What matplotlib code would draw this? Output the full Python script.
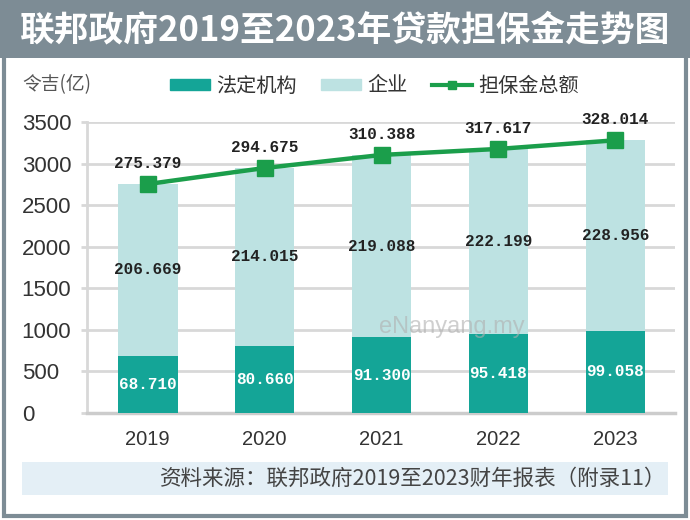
import matplotlib
matplotlib.use("Agg")
import matplotlib.pyplot as plt
from matplotlib.patches import Rectangle, Patch
from matplotlib.lines import Line2D

plt.rcParams['font.family'] = ['Noto Sans CJK SC', 'DejaVu Sans']

years = ['2019', '2020', '2021', '2022', '2023']
statutory = [68.710, 80.660, 91.300, 95.418, 99.058]   # 法定机构
company = [206.669, 214.015, 219.088, 222.199, 228.956]  # 企业
total = [275.379, 294.675, 310.388, 317.617, 328.014]    # 担保金总额
yticks = [0, 500, 1000, 1500, 2000, 2500, 3000, 3500]

dark = '#14a597'
light = '#bde2e2'
green = '#1b9e4b'
frame = '#7d8c95'
grid = '#d8d8d8'

# axis in the picture runs 10x the labelled values
scale = 10

fig = plt.figure(figsize=(6.9, 5.2), dpi=100)
W, H = 690, 520

def fx(px):
    return px / W

def fy(py):
    return 1 - py / H

# outer frame and title bar
fig.patches.append(Rectangle((fx(4), fy(516)), fx(682), 512 / H, transform=fig.transFigure,
                             facecolor='white', edgecolor=frame, lw=3, zorder=0))
fig.patches.append(Rectangle((0, fy(58)), 1, 58 / H, transform=fig.transFigure,
                             facecolor=frame, edgecolor='none', zorder=1))
fig.text(0.5, fy(30), '联邦政府2019至2023年贷款担保金走势图', color='white',
         fontsize=25, fontweight='bold', ha='center', va='center')

# footer band
fig.patches.append(Rectangle((fx(22), fy(495)), fx(646), 33 / H, transform=fig.transFigure,
                             facecolor='#e4eff6', edgecolor='none', zorder=1))
fig.text(fx(666), fy(479), '资料来源：联邦政府2019至2023财年报表（附录11）',
         color='#444444', fontsize=15.5, ha='right', va='center')

ax = fig.add_axes([fx(87), fy(413), fx(675 - 87), (413 - 122) / H])
ax.set_zorder(3)
ax.patch.set_visible(False)
x = list(range(len(years)))
bot = [v * scale for v in statutory]
top = [v * scale for v in company]
tot = [v * scale for v in total]

ax.bar(x, bot, width=0.51, color=dark, zorder=3)
ax.bar(x, top, width=0.51, bottom=bot, color=light, zorder=3)
ax.plot(x, tot, color=green, lw=3.2, marker='s', markersize=12, zorder=5)

mono = dict(family='Liberation Mono', fontweight='bold', fontsize=11.5)
for i in x:
    ax.text(i, bot[i] / 2, f'{statutory[i]:.3f}', color='white', ha='center', va='center', zorder=6, **mono)
    ax.text(i, bot[i] + top[i] / 2, f'{company[i]:.3f}', color='#222222', ha='center', va='center', zorder=6, **mono)
    ax.annotate(f'{total[i]:.3f}', (i, tot[i]), xytext=(0, 15), textcoords='offset points',
                color='#222222', ha='center', va='center', zorder=6, **mono)

ax.set_xlim(-0.52, 4.51)
ax.set_ylim(0, 3500)
ax.set_yticks(yticks)
ax.set_xticks(x)
ax.set_xticklabels(years, fontsize=14.5, family='Liberation Sans', color='#333333')
ax.set_yticklabels([str(t) for t in yticks], fontsize=16, family='Liberation Sans',
                   color='#333333', ha='left')
ax.tick_params(axis='y', length=4, color=grid, width=2, pad=43)
ax.tick_params(axis='x', length=0, pad=12)
ax.grid(axis='y', color=grid, lw=2, zorder=0)
for s in ['top', 'right']:
    ax.spines[s].set_visible(False)
ax.spines['left'].set_color(grid)
ax.spines['left'].set_linewidth(2)
ax.spines['bottom'].set_color('#cccccc')
ax.spines['bottom'].set_linewidth(2.5)

# watermark
ax.text(2.6, 1030, 'eNanyang.my', color='#b0b0b0', alpha=0.6, fontsize=17,
        family='Liberation Sans', ha='center', va='center', zorder=4)

# unit and legend
fig.text(fx(22), fy(85), '令吉(亿)', color='#555555', fontsize=13.5, ha='left', va='center')
handles = [Patch(color=dark), Patch(color=light),
           Line2D([0], [0], color=green, lw=3, marker='s', markersize=6)]
fig.legend(handles, ['法定机构', '企业', '担保金总额'], ncol=3, frameon=False,
           loc='center left', bbox_to_anchor=(fx(152), fy(86)), fontsize=14.5,
           handlelength=2.0, handleheight=0.5, columnspacing=1.2, handletextpad=0.3,
           labelcolor='#333333')

fig.savefig('out.png', dpi=100)
